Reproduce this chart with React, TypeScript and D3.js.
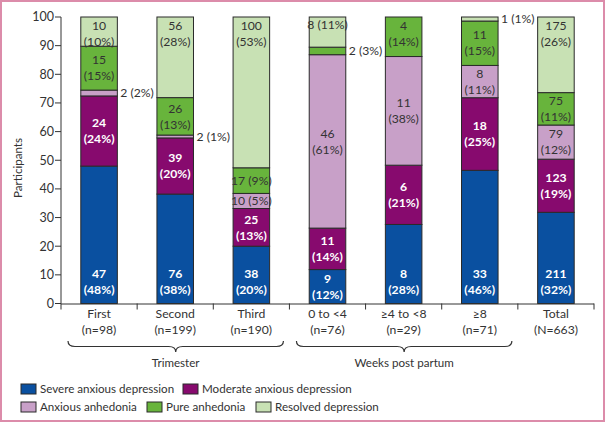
import React from "react";
import * as d3 from "d3";

const categories = ["First", "Second", "Third", "0 to <4", "≥4 to <8", "≥8", "Total"];
const sampleLabels = ["(n=98)", "(n=199)", "(n=190)", "(n=76)", "(n=29)", "(n=71)", "(N=663)"];
const seriesNames = [
  "Severe anxious depression",
  "Moderate anxious depression",
  "Anxious anhedonia",
  "Pure anhedonia",
  "Resolved depression",
];
const severe = [47, 76, 38, 9, 8, 33, 211];
const moderate = [24, 39, 25, 11, 6, 18, 123];
const anxiousAnhedonia = [2, 2, 10, 46, 11, 8, 79];
const pureAnhedonia = [15, 26, 17, 2, 4, 11, 75];
const resolved = [10, 56, 100, 8, 0, 1, 175];
const yTicks = [0, 10, 20, 30, 40, 50, 60, 70, 80, 90, 100];
const groups = [
  { label: "Trimester", from: 0, to: 2 },
  { label: "Weeks post partum", from: 3, to: 5 },
];
// labels drawn on a single line inside the bar
const singleLine = new Set(["Third|2", "Third|3", "0 to <4|4"]);

const colors = ["#0a50a0", "#870a6e", "#c8a0c8", "#68b43c", "#c8e1b4"];
const textOn = ["#ffffff", "#ffffff", "#333333", "#333333", "#333333"];
const FONT = "Lato, 'Liberation Sans', sans-serif";
const FS = 11.6;
const BFS = 12.2;

const W = 606;
const H = 423;
const left = 61;
const right = 594;
const top = 17;
const bottom = 303.5;

export default function App() {
  const series = [severe, moderate, anxiousAnhedonia, pureAnhedonia, resolved];
  const x = d3.scaleBand<string>().domain(categories).range([left, right]).paddingInner(0.52).paddingOuter(0.26);
  const y = d3.scaleLinear().domain([0, 100]).range([bottom, top]);
  const bw = x.bandwidth();
  const step = x.step();

  const rows = categories.map((c, i) => {
    const o: any = { cat: c };
    series.forEach((s, k) => (o[k] = s[i]));
    return o;
  });
  const totals = categories.map((_, i) => series.reduce((a, s) => a + s[i], 0));
  const pctRows = rows.map((r, i) => {
    const o: any = { cat: r.cat };
    series.forEach((_, k) => (o[k] = (r[k] / totals[i]) * 100));
    return o;
  });
  const stack = d3.stack<any>().keys(series.map((_, k) => String(k)));
  const stacked = stack(pctRows);

  const bandStart = (i: number) => x(categories[i])! - (step - bw) / 2;
  const bandEnd = (i: number) => bandStart(i) + step;

  const labels: JSX.Element[] = [];
  categories.forEach((c, i) => {
    const lastK = series.map((s, k) => (s[i] > 0 ? k : -1)).reduce((a, b) => Math.max(a, b), -1);
    series.forEach((s, k) => {
      const cnt = s[i];
      if (cnt <= 0) return;
      const seg = stacked[k][i];
      const pct = seg[1] - seg[0];
      const pctTxt = `(${Math.round(pct)}%)`;
      const y0 = y(seg[0]);
      const y1 = y(seg[1]);
      const cy = (y0 + y1) / 2;
      const cx = x(c)! + bw / 2;
      const key = `${i}-${k}`;
      const fw = k < 2 ? 700 : 400;
      if (pct < 4) {
        labels.push(
          <text key={key} x={x(c)! + bw + 3} y={cy} dy="0.35em" fontSize={BFS} fill="#333" fontFamily={FONT}>
            {`${cnt} ${pctTxt}`}
          </text>
        );
        return;
      }
      const single = singleLine.has(`${c}|${k}`);
      let center = cy;
      if (k === lastK) center = y(100) + (single ? 8 : 16.5);
      else if (k === 0) center = Math.max(cy, bottom - 22);
      if (single) {
        labels.push(
          <text key={key} x={cx} y={center} dy="0.35em" textAnchor="middle" fontSize={BFS} fill={textOn[k]} fontWeight={fw} fontFamily={FONT}>
            {`${cnt} ${pctTxt}`}
          </text>
        );
      } else {
        labels.push(
          <text key={key} x={cx} textAnchor="middle" fontSize={BFS} fill={textOn[k]} fontWeight={fw} fontFamily={FONT}>
            <tspan x={cx} y={center - 8} dy="0.35em">{cnt}</tspan>
            <tspan x={cx} y={center + 8} dy="0.35em">{pctTxt}</tspan>
          </text>
        );
      }
    });
  });

  const brace = (x1: number, x2: number) => {
    const ya = 341;
    const yb = 346.5;
    const yc = 352;
    const xm = (x1 + x2) / 2;
    const r = 7;
    return `M${x1},${ya} Q${x1},${yb} ${x1 + r},${yb} L${xm - r},${yb} Q${xm},${yb} ${xm},${yc} Q${xm},${yb} ${xm + r},${yb} L${x2 - r},${yb} Q${x2},${yb} ${x2},${ya}`;
  };

  const legendItems = [
    { k: 0, sx: 21, sy: 384 },
    { k: 1, sx: 183, sy: 384 },
    { k: 2, sx: 21, sy: 402 },
    { k: 3, sx: 147, sy: 402 },
    { k: 4, sx: 256, sy: 402 },
  ];

  return (
    <svg width={W} height={H} style={{ position: "absolute", left: 0, top: 0, background: "#fff" }} fontFamily={FONT}>
      <rect x={1} y={1} width={W - 3} height={H - 3} fill="#fff" stroke="#dc8caa" strokeWidth={2} />
      {/* y axis */}
      <line x1={left} x2={left} y1={y(100)} y2={bottom} stroke="#333" strokeWidth={1} />
      {yTicks.map((t) => (
        <g key={t}>
          <line x1={left - 6} x2={left} y1={y(t)} y2={y(t)} stroke="#333" />
          <text x={left - 7} y={y(t)} dy="0.35em" textAnchor="end" fontSize={12.5} fill="#333">
            {t}
          </text>
        </g>
      ))}
      <text transform={`translate(22,${168}) rotate(-90)`} textAnchor="middle" fontSize={FS} fill="#333">
        Participants
      </text>
      {/* bars */}
      {stacked.map((layer, k) =>
        layer.map((d, i) => (
          <rect
            key={`${k}-${i}`}
            x={x(categories[i])!}
            y={y(d[1])}
            width={bw}
            height={Math.max(0, y(d[0]) - y(d[1]))}
            fill={colors[k]}
            stroke="#2a2a2a"
            strokeWidth={1}
          />
        ))
      )}
      {labels}
      {/* x axis */}
      <line x1={left} x2={right} y1={bottom + 0.5} y2={bottom + 0.5} stroke="#333" />
      {d3.range(categories.length + 1).map((j) => {
        const xx = j < categories.length ? bandStart(j) : bandEnd(categories.length - 1);
        return <line key={j} x1={xx} x2={xx} y1={bottom} y2={bottom + 6} stroke="#333" />;
      })}
      {categories.map((c, i) => (
        <text key={c} textAnchor="middle" fontSize={12.2} fill="#333">
          <tspan x={x(c)! + bw / 2} y={318}>{c}</tspan>
          <tspan x={x(c)! + bw / 2} y={334}>{sampleLabels[i]}</tspan>
        </text>
      ))}
      {groups.map((g) => {
        const x1 = bandStart(g.from) + 7;
        const x2 = bandEnd(g.to) - 6;
        return (
          <g key={g.label}>
            <path d={brace(x1, x2)} fill="none" stroke="#333" strokeWidth={1.2} />
            <text x={(x1 + x2) / 2} y={367} textAnchor="middle" fontSize={FS} fill="#333">
              {g.label}
            </text>
          </g>
        );
      })}
      {legendItems.map((it) => (
        <g key={it.k}>
          <rect x={it.sx} y={it.sy} width={15} height={10} fill={colors[it.k]} stroke="#2a2a2a" />
          <text x={it.sx + 19} y={it.sy + 5} dy="0.35em" fontSize={FS} fill="#333">
            {seriesNames[it.k]}
          </text>
        </g>
      ))}
    </svg>
  );
}
